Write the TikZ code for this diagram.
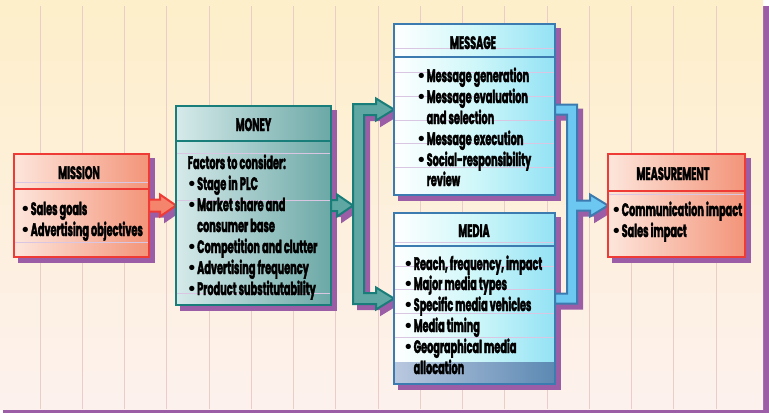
\documentclass[tikz,border=0pt]{standalone}
\usepackage{fontspec}
\setmainfont{Poppins}[FakeStretch=0.54,FakeBold=2]
\newfontfamily\bulfont{DejaVu Sans}
\usetikzlibrary{calc}
\pgfdeclarelayer{bg}
\pgfdeclarelayer{shadow}
\pgfdeclarelayer{arrows}
\pgfsetlayers{bg,shadow,arrows,main}
\definecolor{cream}{HTML}{FDEFC9}
\definecolor{creamb}{HTML}{FDF1EE}
\definecolor{vline}{HTML}{EACDC8}
\definecolor{shadowc}{HTML}{9A5DA6}
\definecolor{redb}{HTML}{EE3B35}
\definecolor{redl}{HTML}{FDE6DC}
\definecolor{redr}{HTML}{F39479}
\definecolor{redarrowc}{HTML}{F5846D}
\definecolor{tealb}{HTML}{197E79}
\definecolor{teall}{HTML}{D6EAEA}
\definecolor{tealr}{HTML}{6BA8A6}
\definecolor{tealarrowc}{HTML}{5FA7A2}
\definecolor{blueb}{HTML}{3B7BB0}
\definecolor{bluem}{HTML}{CFF7F9}
\definecolor{bluer}{HTML}{93E2F5}
\definecolor{bluearrowc}{HTML}{6DC8F1}
\definecolor{bandl}{HTML}{B9C8DF}
\definecolor{bandr}{HTML}{5C89B3}
\definecolor{rulec}{HTML}{D9C6E3}
\newcommand\bul{\makebox[10pt][l]{\bulfont\fontsize{15}{15}\selectfont\raisebox{0.3pt}{•}}}
\newcommand\ind{\hspace*{10pt}}
\newcommand\redarrow[1]{\filldraw[#1]
  ($(mission.east)+(0,-6)$) -- ($(money.west)+(-16,-6)$) -- ($(money.west)+(-16,-11)$)
  -- (money.west) -- ($(money.west)+(-16,11)$) -- ($(money.west)+(-16,6)$)
  -- ($(mission.east)+(0,6)$) -- cycle;}
\newcommand\tealarrow[1]{\filldraw[#1]
  ($(money.east)+(0,-5.5)$) -- ($(money.east)+(6,-5.5)$) -- ($(money.east)+(6,-11)$)
  -- ($(money.east)+(22,0)$) -- ($(money.east)+(6,11)$) -- ($(money.east)+(6,5.5)$)
  -- ($(money.east)+(0,5.5)$) -- cycle;}
\newcommand\tealfork[1]{\filldraw[#1]
  ($(message.west)+(-41,-5.5)$) -- ($(message.west)+(-18,-5.5)$) -- ($(message.west)+(-18,-11)$)
  -- (message.west) -- ($(message.west)+(-18,11)$) -- ($(message.west)+(-18,5.5)$)
  -- ($(message.west)+(-30,5.5)$) -- ($(media.west)+(-30,-5.5)$)
  -- ($(media.west)+(-18,-5.5)$) -- ($(media.west)+(-18,-11)$) -- (media.west)
  -- ($(media.west)+(-18,11)$) -- ($(media.west)+(-18,5.5)$) -- ($(media.west)+(-41,5.5)$) -- cycle;}
\newcommand\bluefork[1]{\filldraw[#1]
  ($(message.east)+(0,-5)$) -- ($(message.east)+(22,-5)$) -- ($(measure.west)+(-31,-5)$)
  -- ($(measure.west)+(-18,-5)$) -- ($(measure.west)+(-18,-11)$) -- (measure.west)
  -- ($(measure.west)+(-18,11)$) -- ($(measure.west)+(-18,5)$) -- ($(measure.west)+(-31,5)$)
  -- ($(media.east)+(22,5)$) -- ($(media.east)+(0,5)$) -- ($(media.east)+(0,-5)$)
  -- ($(media.east)+(12,-5)$) -- ($(message.east)+(12,5)$) -- ($(message.east)+(0,5)$) -- cycle;}
\tikzset{
  boxshape/.style={rectangle, inner sep=0pt, outer sep=0pt, line width=2pt},
  ttl/.style={anchor=base, inner sep=0pt, font=\fontsize{18}{21}\selectfont\bfseries},
  itm/.style={anchor=base west, inner sep=0pt, font=\fontsize{18}{21}\selectfont\bfseries},
  divider/.style={line width=2pt},
  ruled/.style={rulec, line width=0.6pt, shorten <=1pt, shorten >=1pt},
  arrowshape/.style={line width=2pt, line join=miter},
  shadowshape/.style={fill=shadowc, draw=shadowc, line width=2pt, line join=miter,
    transform canvas={xshift=5pt,yshift=-5pt}}
}
\begin{document}
\begin{tikzpicture}[x=1pt,y=-1pt]
\useasboundingbox (0,0) rectangle (769,413);
% background panel
\begin{pgfonlayer}{bg}
  \fill[white] (0,0) rectangle (769,413);
  \fill[shadowc] (3,6) rectangle (769,413);
  \shade[top color=cream, middle color=cream, bottom color=creamb] (0,0) rectangle (763,409);
  \foreach \i in {0,...,16}
    \draw[vline, line width=0.7pt] ({40+42.25*\i},6) -- ({40+42.25*\i},409);
\end{pgfonlayer}
% boxes
\node[boxshape, draw=redb, left color=redl, right color=redr,
  minimum width=135pt, minimum height=103pt] (mission) at (81.5,205.5) {};
\node[boxshape, draw=tealb, left color=teall, right color=tealr,
  minimum width=155pt, minimum height=199pt] (money) at (253.5,205.5) {};
\node[boxshape, draw=blueb, left color=white, right color=bluer, middle color=bluem,
  minimum width=161pt, minimum height=171pt] (message) at (474.5,109.5) {};
\node[boxshape, draw=blueb, left color=white, right color=bluer, middle color=bluem,
  minimum width=161pt, minimum height=171pt] (media) at (474.5,298.5) {};
\node[boxshape, draw=redb, left color=redl, right color=redr,
  minimum width=137pt, minimum height=103pt] (measure) at (676.5,205.5) {};
% media bottom band
\fill[left color=bandl, right color=bandr] ($(media.west |- 0,362)+(1,0)$) rectangle ($(media.south east)+(-1,-1)$);
% shadows
\begin{pgfonlayer}{shadow}
  \foreach \n in {mission,money,message,media,measure}
    \fill[shadowc] ($(\n.south west)+(4,6)$) rectangle ($(\n.north east)+(6,4)$);
  \redarrow{shadowshape}
  \tealarrow{shadowshape}
  \tealfork{shadowshape}
  \bluefork{shadowshape}
\end{pgfonlayer}
% connectors
\begin{pgfonlayer}{arrows}
  \redarrow{arrowshape, fill=redarrowc, draw=redb}
  \tealarrow{arrowshape, fill=tealarrowc, draw=tealb}
  \tealfork{arrowshape, fill=tealarrowc, draw=tealb}
  \bluefork{arrowshape, fill=bluearrowc, draw=blueb}
\end{pgfonlayer}
% ruled lines
\foreach \y in {182,242} \draw[ruled] (mission.west |- 0,\y) -- (mission.east |- 0,\y);
\foreach \y in {153,200,293} \draw[ruled] (money.west |- 0,\y) -- (money.east |- 0,\y);
\foreach \y in {48,72,96,120,143,167} \draw[ruled] (message.west |- 0,\y) -- (message.east |- 0,\y);
\foreach \y in {242,266,289,313,337} \draw[ruled] (media.west |- 0,\y) -- (media.east |- 0,\y);
\foreach \y in {194} \draw[ruled] (measure.west |- 0,\y) -- (measure.east |- 0,\y);
% header dividers
\draw[divider, redb] (mission.west |- 0,189) -- (mission.east |- 0,189);
\draw[divider, tealb] (money.west |- 0,141) -- (money.east |- 0,141);
\draw[divider, blueb] (message.west |- 0,57) -- (message.east |- 0,57);
\draw[divider, blueb] (media.west |- 0,246) -- (media.east |- 0,246);
\draw[divider, redb] (measure.west |- 0,191) -- (measure.east |- 0,191);
\draw[boxshape, draw=blueb] (media.north west) rectangle (media.south east);
% texts
\node[ttl] (missiont) at (79,179) {MISSION};
\node[itm] (mis1) at (20.5,215) {\bul Sales goals};
\node[itm] (mis2) at (20.5,236) {\bul Advertising objectives};
\node[ttl] (moneyt) at (253.5,131) {MONEY};
\node[itm] (mon0) at (187.5,169) {Factors to consider:};
\node[itm] (mon1) at (187,190) {\bul Stage in PLC};
\node[itm] (mon2) at (187,211) {\bul Market share and};
\node[itm] (mon3) at (187,232) {\ind consumer base};
\node[itm] (mon4) at (187,253) {\bul Competition and clutter};
\node[itm] (mon5) at (187,274) {\bul Advertising frequency};
\node[itm] (mon6) at (187,295) {\bul Product substitutability};
\node[ttl] (messaget) at (473,49) {MESSAGE};
\node[itm] (mes1) at (416.5,82) {\bul Message generation};
\node[itm] (mes2) at (416.5,103) {\bul Message evaluation};
\node[itm] (mes3) at (416.5,124) {\ind and selection};
\node[itm] (mes4) at (416.5,145) {\bul Message execution};
\node[itm] (mes5) at (416.5,166) {\bul Social-responsibility};
\node[itm] (mes6) at (416.5,186) {\ind review};
\node[ttl] (mediat) at (474,237) {MEDIA};
\node[itm] (med1) at (403.5,270) {\bul Reach, frequency, impact};
\node[itm] (med2) at (403.5,290) {\bul Major media types};
\node[itm] (med3) at (403.5,311) {\bul Specific media vehicles};
\node[itm] (med4) at (403.5,332) {\bul Media timing};
\node[itm] (med5) at (403.5,353) {\bul Geographical media};
\node[itm] (med6) at (403.5,374) {\ind allocation};
\node[ttl] (measuret) at (673,180) {MEASUREMENT};
\node[itm] (mea1) at (611.5,216) {\bul Communication impact};
\node[itm] (mea2) at (611.5,237) {\bul Sales impact};
\end{tikzpicture}
\end{document}
